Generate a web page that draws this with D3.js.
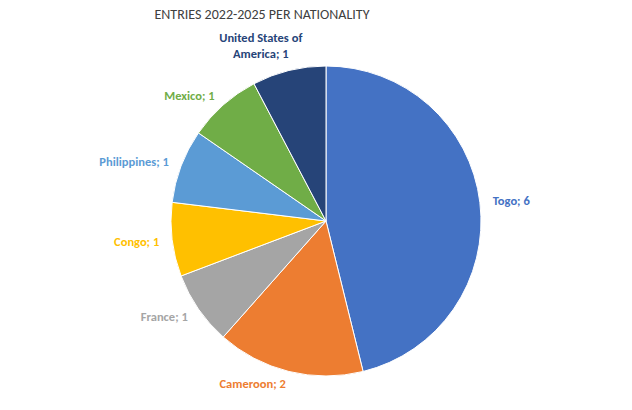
<!DOCTYPE html>
<html><head><meta charset="utf-8">
<script src="https://cdn.jsdelivr.net/npm/d3@7"></script>
<style>body{margin:0;background:#fff}</style>
</head><body>
<script>
const countries = ["Togo", "Cameroon", "France", "Congo", "Philippines", "Mexico", "United States of America"];
const entries = [6, 2, 1, 1, 1, 1, 1];
const colors = ["#4472C4", "#ED7D31", "#A5A5A5", "#FFC000", "#5B9BD5", "#70AD47", "#264478"];

const W = 632, H = 410, cx = 326, cy = 221, r = 155;
const svg = d3.select("body").append("svg").attr("width", W).attr("height", H)
  .style("font-family", "Carlito, 'Liberation Sans', sans-serif");

svg.append("text").attr("x", 262).attr("y", 19).attr("text-anchor", "middle")
  .attr("font-size", 14).attr("fill", "#404040").text("ENTRIES 2022-2025 PER NATIONALITY");

const data = countries.map((c, i) => ({name: c, value: entries[i], color: colors[i]}));
const pie = d3.pie().value(d => d.value).sort(null);
const arc = d3.arc().innerRadius(0).outerRadius(r);
const arcs = pie(data);

const g = svg.append("g").attr("transform", `translate(${cx},${cy})`);
g.selectAll("path").data(arcs).enter().append("path")
  .attr("d", arc).attr("fill", d => d.data.color)
  .attr("stroke", "#fff").attr("stroke-width", 1);

const lr = r + 13;
g.selectAll("text.lbl").data(arcs).enter().append("text")
  .attr("class", "lbl")
  .attr("font-size", 12.5).attr("font-weight", "bold")
  .attr("fill", d => d.data.color)
  .attr("text-anchor", d => ((d.startAngle + d.endAngle) / 2 < Math.PI ? "start" : "end"))
  .each(function(d) {
    const a = (d.startAngle + d.endAngle) / 2;
    const x = lr * Math.sin(a), y = -lr * Math.cos(a);
    const t = d3.select(this);
    if (d.data.name === "United States of America") {
      t.attr("text-anchor", "middle");
      t.append("tspan").attr("x", x - 25).attr("y", y - 16).text("United States of");
      t.append("tspan").attr("x", x - 25).attr("y", y).text("America; " + d.data.value);
    } else {
      t.attr("x", x).attr("y", y).attr("dy", "0.35em").text(d.data.name + "; " + d.data.value);
    }
  });
</script>
</body></html>
